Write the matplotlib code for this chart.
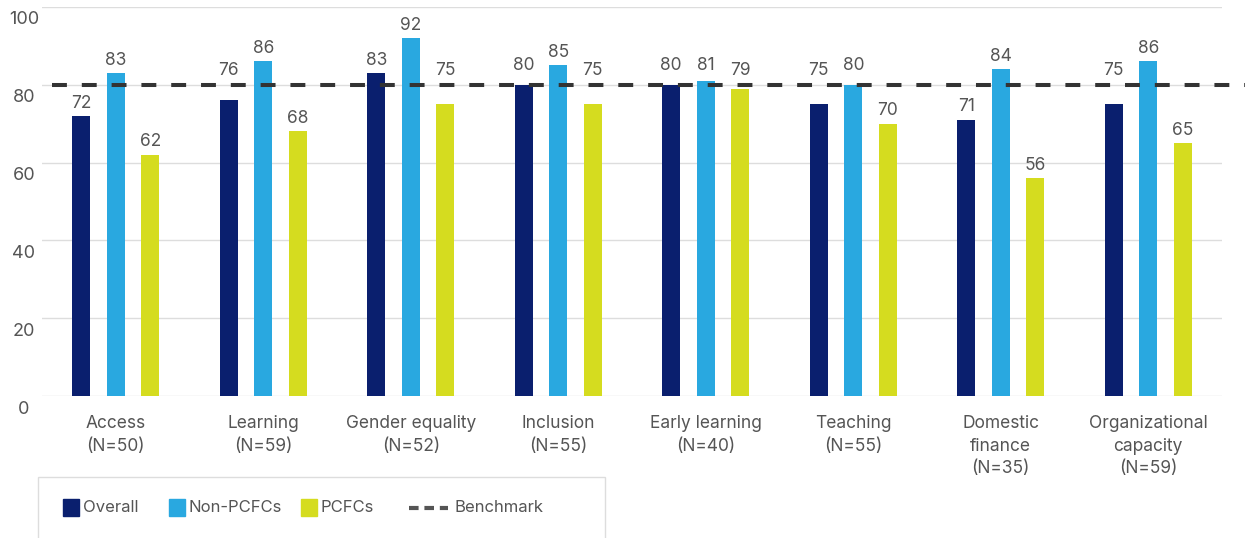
import matplotlib
matplotlib.use("Agg")
import matplotlib.pyplot as plt
import matplotlib.transforms as mtransforms
from matplotlib.patches import Rectangle
from matplotlib.lines import Line2D
import numpy as np

categories = ["Access\n(N=50)", "Learning\n(N=59)", "Gender equality\n(N=52)", "Inclusion\n(N=55)",
              "Early learning\n(N=40)", "Teaching\n(N=55)", "Domestic\nfinance\n(N=35)",
              "Organizational\ncapacity\n(N=59)"]
series_names = ["Overall", "Non-PCFCs", "PCFCs"]
overall = [72, 76, 83, 80, 80, 75, 71, 75]
non_pcfcs = [83, 86, 92, 85, 81, 80, 84, 86]
pcfcs = [62, 68, 75, 75, 79, 70, 56, 65]
benchmark = 80
benchmark_name = "Benchmark"
yticks = [0, 20, 40, 60, 80, 100]

colors = ["#0A1F6E", "#29A8E0", "#D5DC1F"]
txt = "#555555"
plt.rcParams['font.family'] = ['Inter', 'DejaVu Sans']

W, H = 1245, 538
fig = plt.figure(figsize=(W/100, H/100), dpi=100)
ax = fig.add_axes([42/W, 142/H, 1180/W, 389/H])

x = np.arange(len(categories))
bw = 0.122
off = 0.234
for i, (vals, c) in enumerate(zip([overall, non_pcfcs, pcfcs], colors)):
    pos = x + (i - 1) * off
    ax.bar(pos, vals, width=bw, color=c, zorder=2)
    for p, v in zip(pos, vals):
        if benchmark - 6 <= v <= benchmark + 2:
            # label moved above the benchmark line
            yv = benchmark
            dy = 7 if v < benchmark else 11
        else:
            yv = v
            dy = 6
        ax.annotate(f"{v}", (p, yv), xytext=(0, dy), textcoords="offset points",
                    ha="center", va="baseline", fontsize=12.5, color=txt, zorder=4)

ax.axhline(benchmark, xmin=10/1180, xmax=(1245-42)/1180, color="#333333", lw=2.9,
           dashes=(3.7, 3.7), clip_on=False, zorder=3)

ax.set_xlim(-0.5, 7.5)
ax.set_ylim(0, 100)
ax.set_yticks(yticks)
ax.grid(axis="y", color="#dddddd", lw=1, zorder=0)
for s in ax.spines.values():
    s.set_visible(False)
ax.tick_params(axis="y", length=0, pad=13, labelsize=13, labelcolor=txt)
for lab in ax.get_yticklabels():
    lab.set_horizontalalignment("center")
    lab.set_transform(lab.get_transform() + mtransforms.ScaledTranslation(0, -11/100, fig.dpi_scale_trans))
ax.set_xticks(x)
ax.set_xticklabels(categories, fontsize=12.5, color=txt, linespacing=1.4)
ax.tick_params(axis="x", length=0, pad=14)

# legend box
fig.patches.append(Rectangle((38/W, -0.05), (605-38)/W, (538-477)/H + 0.05,
                             transform=fig.transFigure, fill=False, ec="#dddddd", lw=1))
ly = 1 - 508/H
sq_x = [63, 169, 301]
for sx, c, n in zip(sq_x, colors, series_names):
    fig.patches.append(Rectangle((sx/W, ly - 8/H), 16/W, 17/H, transform=fig.transFigure,
                                 color=c))
    fig.text((sx + 20)/W, ly, n, fontsize=12, color=txt, va="center", ha="left")
fig.lines.append(Line2D([409/W, 448/W], [ly, ly], transform=fig.transFigure, color="#555555",
                        lw=3, dashes=(2.3, 1.4)))
fig.text(454/W, ly, benchmark_name, fontsize=12, color=txt, va="center", ha="left")

fig.savefig("out.png", dpi=100)
